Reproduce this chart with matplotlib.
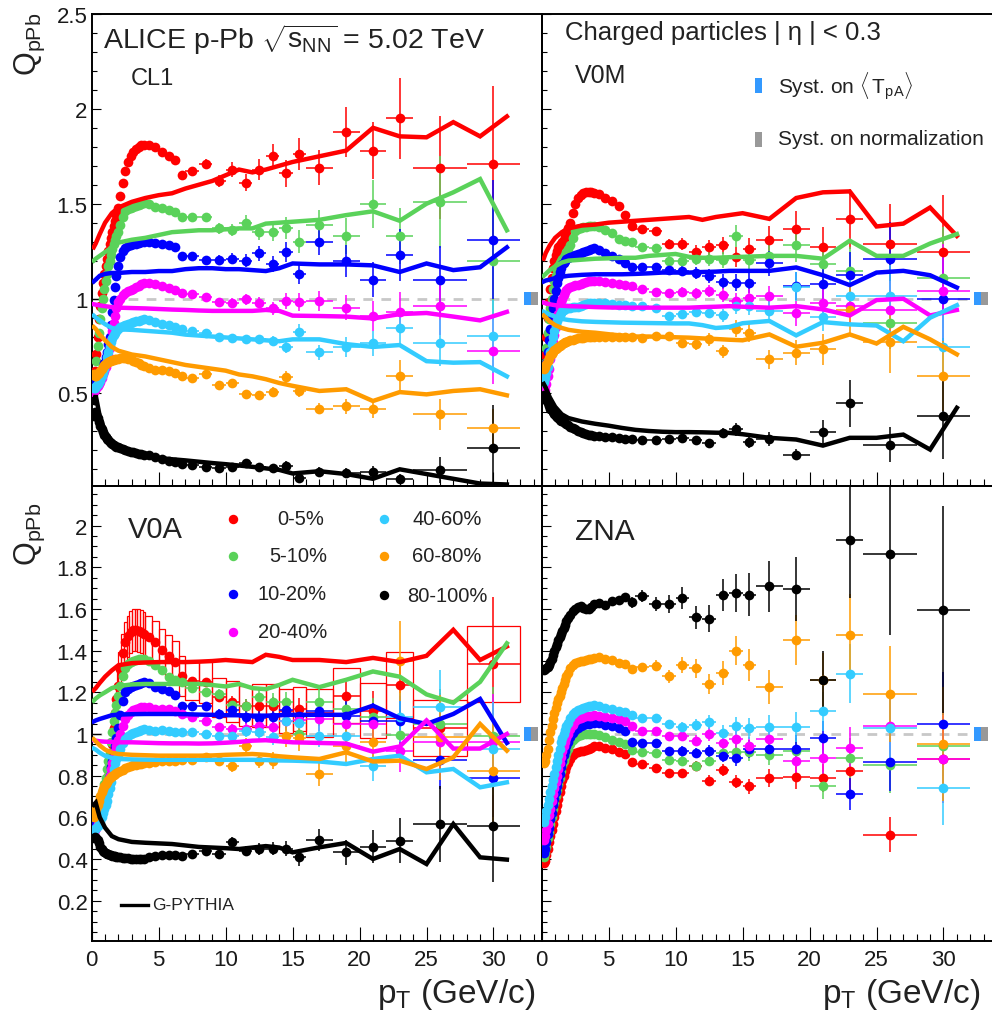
import numpy as np
import matplotlib
matplotlib.use('Agg')
import matplotlib.pyplot as plt
from matplotlib.patches import Rectangle

plt.rcParams['font.family'] = ['Liberation Sans', 'DejaVu Sans']
plt.rcParams['mathtext.fontset'] = 'custom'
plt.rcParams['mathtext.rm'] = 'Liberation Sans'
plt.rcParams['mathtext.it'] = 'Liberation Sans:italic'
plt.rcParams['mathtext.bf'] = 'Liberation Sans:bold'

# ---------------- data ----------------
PT_EDGES = [0.15, 0.2, 0.3, 0.4, 0.5, 0.6, 0.7, 0.8, 0.9, 1.0, 1.1, 1.2, 1.3, 1.4, 1.5, 1.6, 1.7,
            1.8, 1.9, 2.0, 2.2, 2.4, 2.6, 2.8, 3.0, 3.2, 3.4, 3.6, 3.8, 4.0, 4.5, 5.0, 5.5, 6.0,
            6.5, 7.0, 8.0, 9.0, 10.0, 11.0, 12.0, 13.0, 14.0, 15.0, 16.0, 18.0, 20.0, 22.0,
            24.0, 28.0, 32.0]
CLASSES = ['0-5%', '5-10%', '10-20%', '20-40%', '40-60%', '60-80%', '80-100%']
COLORS = ['#ff0000', '#5ad25a', '#0000ff', '#ff00ff', '#33ccff', '#ff9b00', '#000000']

# relative stat. uncertainty for the 16 high-pT bins (6.5-32 GeV/c)
REL_STAT_HI = [0.012, 0.014, 0.016, 0.02, 0.024, 0.028, 0.032, 0.036, 0.042, 0.048,
               0.055, 0.07, 0.085, 0.11, 0.16, 0.24]

# ---- CL1 ----
CL1_0_5 = [0.56, 0.62, 0.71, 0.80, 0.89, 0.96, 1.03, 1.08, 1.13, 1.17, 1.21, 1.25, 1.29, 1.32, 1.35, 1.38, 1.41,
           1.44, 1.48, 1.54, 1.61, 1.67, 1.72, 1.75, 1.77, 1.79, 1.80, 1.81, 1.81, 1.81, 1.80, 1.77, 1.75, 1.73,
           1.65, 1.67, 1.71, 1.62, 1.68, 1.61, 1.68, 1.75, 1.66, 1.76, 1.69, 1.88, 1.78, 1.95, 1.69, 1.71]
CL1_5_10 = [0.55, 0.60, 0.67, 0.75, 0.82, 0.89, 0.95, 1.00, 1.05, 1.09, 1.13, 1.17, 1.20, 1.23, 1.26, 1.29, 1.31,
            1.33, 1.35, 1.39, 1.43, 1.46, 1.47, 1.48, 1.485, 1.49, 1.495, 1.50, 1.505, 1.50, 1.485, 1.48, 1.465, 1.455,
            1.43, 1.43, 1.43, 1.37, 1.36, 1.40, 1.35, 1.35, 1.37, 1.30, 1.39, 1.33, 1.50, 1.33, 1.51, 1.20]
CL1_10_20 = [0.55, 0.56, 0.57, 0.58, 0.60, 0.61, 0.62, 0.64, 0.66, 0.69, 0.72, 0.76, 0.80, 0.86, 0.93, 0.99, 1.06,
             1.12, 1.17, 1.22, 1.25, 1.265, 1.275, 1.28, 1.285, 1.29, 1.295, 1.30, 1.30, 1.30, 1.295, 1.29, 1.28, 1.27,
             1.225, 1.225, 1.205, 1.205, 1.21, 1.20, 1.24, 1.18, 1.245, 1.13, 1.30, 1.20, 1.10, 1.23, 1.10, 1.31]
CL1_20_40 = [0.51, 0.52, 0.53, 0.54, 0.55, 0.56, 0.58, 0.60, 0.62, 0.64, 0.67, 0.70, 0.74, 0.78, 0.83, 0.87, 0.91,
             0.95, 0.98, 1.00, 1.02, 1.03, 1.04, 1.045, 1.05, 1.06, 1.065, 1.075, 1.08, 1.08, 1.075, 1.065, 1.055, 1.045,
             1.03, 1.023, 1.01, 0.982, 0.979, 0.996, 0.979, 0.95, 0.987, 0.982, 0.987, 0.952, 0.908, 0.93, 0.961, 0.723]
CL1_40_60 = [0.53, 0.53, 0.54, 0.55, 0.56, 0.57, 0.59, 0.61, 0.63, 0.66, 0.69, 0.72, 0.75, 0.77, 0.79, 0.81, 0.82,
             0.83, 0.84, 0.85, 0.855, 0.86, 0.865, 0.87, 0.875, 0.88, 0.88, 0.885, 0.89, 0.885, 0.875, 0.865, 0.86, 0.85,
             0.838, 0.829, 0.82, 0.799, 0.792, 0.785, 0.785, 0.776, 0.746, 0.824, 0.718, 0.746, 0.764, 0.846, 0.767, 0.802]
CL1_60_80 = [0.60, 0.59, 0.59, 0.60, 0.61, 0.62, 0.63, 0.64, 0.65, 0.655, 0.66, 0.665, 0.67, 0.672, 0.675, 0.678, 0.68,
             0.682, 0.684, 0.686, 0.688, 0.688, 0.684, 0.68, 0.673, 0.665, 0.66, 0.652, 0.645, 0.635, 0.626, 0.624, 0.617, 0.61,
             0.59, 0.583, 0.60, 0.547, 0.556, 0.495, 0.49, 0.509, 0.588, 0.512, 0.419, 0.433, 0.419, 0.591, 0.389, 0.318]
CL1_80_100 = [0.38, 0.40, 0.39, 0.37, 0.35, 0.33, 0.31, 0.295, 0.28, 0.27, 0.26, 0.252, 0.245, 0.238, 0.232, 0.228, 0.223,
              0.219, 0.215, 0.21, 0.205, 0.20, 0.197, 0.193, 0.19, 0.186, 0.183, 0.18, 0.177, 0.174, 0.165, 0.155, 0.143, 0.136,
              0.129, 0.123, 0.114, 0.106, 0.114, 0.132, 0.114, 0.106, 0.119, 0.053, 0.088, 0.083, 0.085, 0.05, 0.097, 0.21]

# ---- V0M ----
V0M_0_5 = [0.62, 0.70, 0.80, 0.90, 0.98, 1.05, 1.11, 1.16, 1.20, 1.23, 1.25, 1.27, 1.28, 1.29, 1.30, 1.31, 1.33,
           1.35, 1.37, 1.40, 1.45, 1.50, 1.53, 1.545, 1.555, 1.56, 1.56, 1.56, 1.555, 1.55, 1.53, 1.515, 1.49, 1.44,
           1.38, 1.366, 1.357, 1.287, 1.287, 1.246, 1.27, 1.28, 1.22, 1.26, 1.31, 1.366, 1.27, 1.42, 1.29, 1.246]
V0M_5_10 = [0.60, 0.66, 0.74, 0.82, 0.89, 0.95, 1.00, 1.05, 1.09, 1.12, 1.15, 1.17, 1.19, 1.20, 1.21, 1.22, 1.23,
            1.245, 1.26, 1.28, 1.32, 1.355, 1.365, 1.37, 1.375, 1.378, 1.38, 1.383, 1.385, 1.375, 1.36, 1.345, 1.315, 1.305,
            1.30, 1.27, 1.264, 1.20, 1.20, 1.21, 1.21, 1.204, 1.33, 1.204, 1.225, 1.282, 1.181, 1.146, 0.873, 1.111]
V0M_10_20 = [0.56, 0.60, 0.66, 0.72, 0.78, 0.84, 0.90, 0.95, 1.00, 1.04, 1.08, 1.11, 1.14, 1.16, 1.18, 1.19, 1.20,
             1.21, 1.215, 1.22, 1.225, 1.23, 1.235, 1.24, 1.245, 1.25, 1.255, 1.26, 1.264, 1.255, 1.24, 1.225, 1.21, 1.19,
             1.164, 1.164, 1.169, 1.151, 1.146, 1.137, 1.12, 1.088, 1.084, 1.084, 1.186, 1.067, 1.076, 1.123, 1.208, 0.999]
V0M_20_40 = [0.50, 0.52, 0.55, 0.59, 0.63, 0.68, 0.72, 0.77, 0.81, 0.85, 0.89, 0.92, 0.95, 0.98, 1.00, 1.02, 1.035,
             1.045, 1.055, 1.06, 1.065, 1.07, 1.073, 1.075, 1.08, 1.085, 1.09, 1.092, 1.093, 1.09, 1.088, 1.083, 1.075, 1.07,
             1.067, 1.053, 1.035, 1.028, 1.035, 1.028, 1.04, 1.017, 0.987, 1.004, 1.013, 0.922, 0.978, 0.96, 0.94, 1.04]
V0M_40_60 = [0.56, 0.58, 0.61, 0.64, 0.68, 0.72, 0.76, 0.80, 0.83, 0.86, 0.88, 0.90, 0.915, 0.925, 0.935, 0.94, 0.945,
             0.948, 0.95, 0.952, 0.955, 0.957, 0.958, 0.96, 0.965, 0.97, 0.975, 0.978, 0.978, 0.978, 0.976, 0.972, 0.968, 0.964,
             0.96, 0.96, 0.952, 0.908, 0.917, 0.929, 0.925, 0.911, 0.96, 0.96, 0.934, 1.063, 0.905, 1.013, 1.013, 0.746]
V0M_60_80 = [0.63, 0.64, 0.655, 0.67, 0.685, 0.70, 0.71, 0.72, 0.73, 0.735, 0.74, 0.745, 0.75, 0.755, 0.76, 0.765, 0.77,
             0.773, 0.776, 0.78, 0.784, 0.788, 0.79, 0.792, 0.794, 0.795, 0.796, 0.797, 0.798, 0.797, 0.795, 0.795, 0.796, 0.797,
             0.795, 0.794, 0.802, 0.802, 0.767, 0.758, 0.785, 0.723, 0.841, 0.82, 0.679, 0.714, 0.732, 0.94, 0.77, 0.59]
V0M_80_100 = [0.49, 0.48, 0.465, 0.45, 0.435, 0.42, 0.41, 0.40, 0.39, 0.382, 0.375, 0.368, 0.362, 0.357, 0.352, 0.347, 0.342,
              0.337, 0.332, 0.325, 0.316, 0.31, 0.303, 0.298, 0.292, 0.287, 0.283, 0.28, 0.278, 0.275, 0.272, 0.27, 0.266, 0.262,
              0.26, 0.257, 0.257, 0.261, 0.266, 0.257, 0.239, 0.292, 0.31, 0.243, 0.261, 0.178, 0.296, 0.447, 0.23, 0.383]

# ---- V0A ----
V0A_0_5 = [0.60, 0.61, 0.62, 0.63, 0.65, 0.66, 0.68, 0.70, 0.72, 0.74, 0.77, 0.80, 0.84, 0.88, 0.95, 1.03, 1.10,
           1.17, 1.23, 1.31, 1.39, 1.44, 1.47, 1.49, 1.50, 1.50, 1.495, 1.49, 1.48, 1.465, 1.44, 1.405, 1.375, 1.345,
           1.277, 1.256, 1.248, 1.176, 1.155, 1.136, 1.136, 1.136, 1.112, 1.12, 1.10, 1.184, 1.112, 1.235, 1.03, 1.336]
V0A_5_10 = [0.60, 0.61, 0.62, 0.64, 0.66, 0.68, 0.70, 0.73, 0.76, 0.79, 0.83, 0.87, 0.91, 0.96, 1.01, 1.06, 1.10,
            1.14, 1.18, 1.23, 1.28, 1.315, 1.335, 1.345, 1.35, 1.355, 1.36, 1.36, 1.36, 1.35, 1.33, 1.305, 1.275, 1.26,
            1.25, 1.22, 1.20, 1.19, 1.14, 1.136, 1.176, 1.155, 1.155, 1.00, 1.155, 1.12, 1.08, 0.995, 1.05, 0.99]
V0A_10_20 = [0.57, 0.58, 0.59, 0.60, 0.62, 0.63, 0.65, 0.67, 0.69, 0.71, 0.74, 0.77, 0.80, 0.84, 0.87, 0.90, 0.94,
             0.98, 1.03, 1.09, 1.16, 1.20, 1.215, 1.225, 1.23, 1.235, 1.24, 1.245, 1.25, 1.245, 1.225, 1.215, 1.205, 1.185,
             1.136, 1.136, 1.136, 1.096, 1.115, 1.08, 1.076, 1.08, 1.115, 1.088, 1.112, 1.088, 1.06, 1.064, 0.877, 0.79]
V0A_20_40 = [0.53, 0.54, 0.55, 0.57, 0.59, 0.61, 0.63, 0.65, 0.68, 0.71, 0.74, 0.77, 0.80, 0.83, 0.86, 0.89, 0.92,
             0.94, 0.97, 1.00, 1.04, 1.07, 1.09, 1.105, 1.115, 1.12, 1.125, 1.128, 1.13, 1.128, 1.122, 1.12, 1.118, 1.11,
             1.095, 1.08, 1.06, 1.033, 1.022, 1.022, 1.04, 1.033, 1.06, 1.065, 1.073, 1.05, 1.05, 0.92, 0.96, 0.96]
V0A_40_60 = [0.54, 0.545, 0.55, 0.56, 0.57, 0.58, 0.60, 0.62, 0.64, 0.66, 0.68, 0.71, 0.74, 0.77, 0.80, 0.83, 0.86,
             0.88, 0.90, 0.93, 0.955, 0.975, 0.99, 1.00, 1.005, 1.01, 1.015, 1.02, 1.024, 1.02, 1.016, 1.02, 1.015, 1.008,
             1.008, 1.008, 1.00, 0.992, 0.992, 1.016, 1.008, 0.984, 1.06, 1.053, 0.992, 0.99, 0.848, 1.08, 1.128, 0.93]
V0A_60_80 = [0.60, 0.62, 0.64, 0.66, 0.68, 0.70, 0.72, 0.735, 0.75, 0.76, 0.77, 0.78, 0.787, 0.793, 0.798, 0.803, 0.808,
             0.812, 0.816, 0.822, 0.828, 0.835, 0.84, 0.845, 0.85, 0.853, 0.856, 0.858, 0.86, 0.863, 0.866, 0.868, 0.87, 0.872,
             0.874, 0.876, 0.888, 0.872, 0.845, 0.944, 0.872, 0.872, 0.992, 0.98, 0.808, 0.94, 0.96, 1.35, 0.984, 0.824]
V0A_80_100 = [0.50, 0.505, 0.50, 0.49, 0.475, 0.46, 0.45, 0.44, 0.435, 0.43, 0.425, 0.422, 0.42, 0.418, 0.416, 0.414, 0.413,
              0.412, 0.41, 0.408, 0.406, 0.405, 0.403, 0.402, 0.401, 0.40, 0.40, 0.40, 0.402, 0.41, 0.415, 0.418, 0.42, 0.42,
              0.416, 0.424, 0.44, 0.424, 0.483, 0.44, 0.45, 0.45, 0.45, 0.408, 0.492, 0.432, 0.46, 0.488, 0.568, 0.557]
# relative systematic uncertainty of V0A 0-5% (open boxes)
V0A_0_5_SYS = [0.06, 0.06, 0.06, 0.06, 0.06, 0.06, 0.06, 0.06, 0.06, 0.062, 0.062, 0.062, 0.062, 0.063, 0.063, 0.064, 0.064,
               0.065, 0.065, 0.065, 0.066, 0.066, 0.067, 0.067, 0.068, 0.068, 0.069, 0.069, 0.07, 0.07, 0.07, 0.072, 0.072, 0.074,
               0.075, 0.075, 0.08, 0.08, 0.085, 0.085, 0.09, 0.09, 0.095, 0.095, 0.105, 0.11, 0.12, 0.13, 0.13, 0.135]

# ---- ZNA ----
ZNA_0_5 = [0.38, 0.39, 0.42, 0.45, 0.48, 0.51, 0.54, 0.57, 0.60, 0.63, 0.66, 0.69, 0.72, 0.75, 0.78, 0.80, 0.82,
           0.84, 0.86, 0.88, 0.90, 0.91, 0.915, 0.918, 0.92, 0.925, 0.93, 0.935, 0.94, 0.944, 0.935, 0.928, 0.915, 0.904,
           0.864, 0.856, 0.835, 0.812, 0.812, 0.845, 0.776, 0.828, 0.771, 0.748, 0.787, 0.792, 0.787, 0.824, 0.517, 0.88]
ZNA_5_10 = [0.41, 0.43, 0.46, 0.50, 0.53, 0.57, 0.60, 0.64, 0.67, 0.70, 0.73, 0.76, 0.79, 0.82, 0.85, 0.87, 0.89,
            0.91, 0.93, 0.95, 0.97, 0.98, 0.99, 0.995, 1.00, 1.00, 1.00, 1.00, 1.00, 0.995, 0.985, 0.97, 0.96, 0.95,
            0.925, 0.912, 0.908, 0.876, 0.872, 0.848, 0.872, 0.908, 0.912, 0.912, 0.90, 0.916, 0.752, 0.884, 0.852, 0.94]
ZNA_10_20 = [0.43, 0.45, 0.48, 0.52, 0.55, 0.59, 0.62, 0.66, 0.69, 0.72, 0.75, 0.78, 0.81, 0.84, 0.87, 0.90, 0.92,
             0.94, 0.96, 0.985, 1.005, 1.02, 1.03, 1.04, 1.045, 1.048, 1.05, 1.053, 1.055, 1.055, 1.045, 1.04, 1.03, 1.016,
             0.96, 0.956, 0.956, 0.92, 0.92, 0.908, 0.92, 0.896, 0.884, 0.928, 0.928, 0.928, 0.98, 0.712, 0.865, 1.048]
ZNA_20_40 = [0.49, 0.51, 0.54, 0.57, 0.61, 0.64, 0.68, 0.71, 0.74, 0.77, 0.80, 0.83, 0.86, 0.89, 0.92, 0.94, 0.96,
             0.98, 1.00, 1.025, 1.045, 1.06, 1.07, 1.078, 1.082, 1.085, 1.087, 1.088, 1.089, 1.088, 1.08, 1.075, 1.07, 1.064,
             1.04, 1.016, 1.016, 0.989, 0.989, 0.968, 1.00, 0.955, 0.975, 0.94, 0.975, 0.868, 0.884, 0.932, 1.037, 0.88]
ZNA_40_60 = [0.58, 0.60, 0.63, 0.66, 0.69, 0.72, 0.75, 0.78, 0.81, 0.84, 0.87, 0.90, 0.93, 0.96, 0.98, 1.00, 1.02,
             1.04, 1.055, 1.075, 1.095, 1.105, 1.115, 1.12, 1.125, 1.13, 1.133, 1.136, 1.138, 1.135, 1.125, 1.12, 1.11, 1.104,
             1.09, 1.075, 1.075, 1.048, 1.032, 1.043, 1.059, 1.005, 1.037, 1.027, 1.032, 1.032, 1.109, 1.288, 1.027, 0.74]
ZNA_60_80 = [0.86, 0.87, 0.90, 0.93, 0.97, 1.01, 1.04, 1.07, 1.10, 1.125, 1.15, 1.17, 1.18, 1.20, 1.22, 1.24, 1.26,
             1.28, 1.295, 1.315, 1.33, 1.34, 1.345, 1.35, 1.352, 1.355, 1.358, 1.36, 1.365, 1.37, 1.36, 1.357, 1.34, 1.335,
             1.312, 1.32, 1.328, 1.276, 1.331, 1.315, 1.24, 1.293, 1.40, 1.331, 1.227, 1.451, 1.26, 1.477, 1.192, 0.952]
ZNA_80_100 = [1.305, 1.31, 1.315, 1.32, 1.33, 1.345, 1.36, 1.38, 1.40, 1.415, 1.43, 1.45, 1.465, 1.48, 1.495, 1.51, 1.525,
              1.54, 1.555, 1.57, 1.59, 1.60, 1.61, 1.615, 1.605, 1.60, 1.60, 1.61, 1.625, 1.63, 1.62, 1.64, 1.645, 1.655,
              1.632, 1.663, 1.624, 1.624, 1.652, 1.559, 1.554, 1.668, 1.676, 1.668, 1.708, 1.695, 1.259, 1.93, 1.863, 1.597]

# ---- G-PYTHIA curves ----
GP_PT = [0.15, 0.3, 0.6, 1, 1.5, 2, 3, 4, 5, 6, 7, 8, 9, 10, 11, 12, 13, 14, 15, 17, 19, 21, 23, 25, 27, 29, 31]
GP_CL1_0_5 = [1.27, 1.29, 1.34, 1.40, 1.45, 1.48, 1.51, 1.53, 1.545, 1.555, 1.58, 1.60, 1.62, 1.65, 1.68, 1.665, 1.68, 1.70, 1.72, 1.75, 1.78, 1.90, 1.855, 1.85, 1.93, 1.855, 1.96]
GP_CL1_5_10 = [1.20, 1.21, 1.225, 1.245, 1.27, 1.295, 1.31, 1.32, 1.335, 1.35, 1.355, 1.36, 1.36, 1.365, 1.37, 1.37, 1.395, 1.40, 1.405, 1.415, 1.44, 1.46, 1.41, 1.50, 1.56, 1.63, 1.36]
GP_CL1_10_20 = [1.09, 1.10, 1.12, 1.13, 1.135, 1.135, 1.14, 1.14, 1.145, 1.145, 1.155, 1.16, 1.16, 1.155, 1.155, 1.15, 1.145, 1.16, 1.185, 1.18, 1.18, 1.175, 1.14, 1.185, 1.15, 1.165, 1.27]
GP_CL1_20_40 = [0.97, 0.968, 0.964, 0.96, 0.955, 0.952, 0.95, 0.948, 0.945, 0.942, 0.94, 0.937, 0.935, 0.935, 0.935, 0.935, 0.94, 0.935, 0.91, 0.908, 0.905, 0.895, 0.918, 0.924, 0.905, 0.885, 0.93]
GP_CL1_40_60 = [0.91, 0.90, 0.885, 0.865, 0.845, 0.838, 0.835, 0.83, 0.825, 0.82, 0.81, 0.805, 0.80, 0.795, 0.79, 0.785, 0.78, 0.775, 0.785, 0.785, 0.76, 0.745, 0.755, 0.67, 0.662, 0.665, 0.59]
GP_CL1_60_80 = [0.85, 0.84, 0.81, 0.78, 0.745, 0.725, 0.705, 0.695, 0.68, 0.665, 0.65, 0.64, 0.63, 0.62, 0.60, 0.59, 0.575, 0.555, 0.54, 0.513, 0.522, 0.46, 0.507, 0.495, 0.513, 0.522, 0.49]
GP_CL1_80_100 = [0.45, 0.49, 0.38, 0.30, 0.25, 0.22, 0.19, 0.17, 0.16, 0.153, 0.147, 0.14, 0.133, 0.127, 0.12, 0.113, 0.105, 0.097, 0.078, 0.09, 0.075, 0.05, 0.10, 0.075, 0.05, 0.025, 0.02]
GP_V0M_0_5 = [1.21, 1.24, 1.28, 1.32, 1.35, 1.37, 1.385, 1.39, 1.40, 1.405, 1.41, 1.415, 1.42, 1.425, 1.43, 1.415, 1.43, 1.44, 1.45, 1.42, 1.53, 1.56, 1.565, 1.38, 1.395, 1.48, 1.33]
GP_V0M_5_10 = [1.12, 1.13, 1.15, 1.17, 1.19, 1.20, 1.205, 1.21, 1.212, 1.215, 1.215, 1.225, 1.23, 1.235, 1.22, 1.215, 1.215, 1.218, 1.22, 1.225, 1.225, 1.21, 1.305, 1.225, 1.225, 1.29, 1.34]
GP_V0M_10_20 = [1.09, 1.095, 1.10, 1.108, 1.115, 1.12, 1.125, 1.128, 1.128, 1.128, 1.13, 1.133, 1.137, 1.137, 1.137, 1.14, 1.142, 1.146, 1.146, 1.146, 1.164, 1.123, 1.071, 1.137, 1.146, 1.123, 1.058]
GP_V0M_20_40 = [0.978, 0.975, 0.97, 0.965, 0.962, 0.96, 0.958, 0.955, 0.953, 0.952, 0.952, 0.952, 0.952, 0.952, 0.952, 0.955, 0.957, 0.96, 0.957, 0.952, 0.96, 0.943, 0.911, 0.992, 0.999, 0.911, 0.94]
GP_V0M_40_60 = [0.93, 0.925, 0.915, 0.905, 0.893, 0.887, 0.88, 0.877, 0.875, 0.873, 0.872, 0.871, 0.87, 0.869, 0.869, 0.86, 0.845, 0.85, 0.87, 0.882, 0.806, 0.876, 0.864, 0.858, 0.775, 0.899, 0.965]
GP_V0M_60_80 = [0.91, 0.90, 0.88, 0.86, 0.845, 0.835, 0.825, 0.82, 0.812, 0.805, 0.80, 0.80, 0.798, 0.796, 0.794, 0.79, 0.787, 0.783, 0.78, 0.811, 0.746, 0.767, 0.811, 0.763, 0.851, 0.785, 0.706]
GP_V0M_80_100 = [0.55, 0.53, 0.48, 0.43, 0.39, 0.37, 0.352, 0.34, 0.33, 0.318, 0.308, 0.302, 0.298, 0.296, 0.296, 0.295, 0.293, 0.292, 0.285, 0.266, 0.257, 0.225, 0.266, 0.266, 0.283, 0.204, 0.424]
GP_V0A_0_5 = [1.21, 1.22, 1.245, 1.275, 1.305, 1.33, 1.34, 1.343, 1.345, 1.345, 1.345, 1.347, 1.35, 1.355, 1.35, 1.345, 1.38, 1.37, 1.355, 1.355, 1.345, 1.365, 1.345, 1.375, 1.50, 1.355, 1.42]
GP_V0A_5_10 = [1.16, 1.17, 1.185, 1.20, 1.22, 1.23, 1.238, 1.24, 1.24, 1.24, 1.24, 1.24, 1.235, 1.228, 1.24, 1.22, 1.215, 1.235, 1.26, 1.225, 1.26, 1.30, 1.275, 1.19, 1.15, 1.25, 1.435]
GP_V0A_10_20 = [1.06, 1.065, 1.072, 1.08, 1.09, 1.093, 1.095, 1.096, 1.096, 1.096, 1.095, 1.093, 1.092, 1.09, 1.09, 1.088, 1.088, 1.09, 1.092, 1.092, 1.092, 1.136, 1.076, 1.048, 1.096, 1.168, 0.957]
GP_V0A_20_40 = [0.97, 0.968, 0.965, 0.963, 0.962, 0.96, 0.96, 0.958, 0.956, 0.955, 0.955, 0.954, 0.955, 0.958, 0.962, 0.968, 0.97, 0.965, 0.96, 0.957, 0.954, 0.915, 0.94, 1.065, 0.93, 0.93, 1.00]
GP_V0A_40_60 = [0.93, 0.925, 0.91, 0.895, 0.885, 0.88, 0.878, 0.877, 0.876, 0.876, 0.876, 0.876, 0.876, 0.876, 0.876, 0.876, 0.875, 0.873, 0.872, 0.868, 0.856, 0.88, 0.896, 0.816, 0.832, 0.744, 0.768]
GP_V0A_60_80 = [0.975, 0.965, 0.945, 0.925, 0.91, 0.904, 0.90, 0.898, 0.896, 0.896, 0.896, 0.896, 0.897, 0.90, 0.902, 0.904, 0.90, 0.893, 0.888, 0.88, 0.912, 0.868, 0.872, 0.832, 0.888, 1.048, 0.92]
GP_V0A_80_100 = [0.66, 0.67, 0.60, 0.55, 0.51, 0.495, 0.482, 0.478, 0.475, 0.472, 0.465, 0.458, 0.455, 0.452, 0.448, 0.455, 0.462, 0.455, 0.432, 0.456, 0.477, 0.40, 0.448, 0.376, 0.568, 0.408, 0.397]

# ---------------- layout ----------------
W, H = 992, 1020
fig = plt.figure(figsize=(W / 100, H / 100), dpi=100)


def fx(px):
    return px / W


def fy(py):
    return 1 - py / H


def rect(x0, y0, x1, y1):
    return [x0 / W, 1 - y1 / H, (x1 - x0) / W, (y1 - y0) / H]


XL, XM, XR = 91.7, 541.7, 991.7
YT, YM, YB = 15.0, 487.0, 941.7
XMAX = 33.6

edges = np.array(PT_EDGES)
pt = 0.5 * (edges[1:] + edges[:-1])
pt_hw = 0.5 * (edges[1:] - edges[:-1])
n_lo = len(pt) - len(REL_STAT_HI)

panels = [
    dict(name='CL1', rect=rect(XL, YT, XM, YM), top=True, left=True,
         data=[CL1_0_5, CL1_5_10, CL1_10_20, CL1_20_40, CL1_40_60, CL1_60_80, CL1_80_100],
         gp=[GP_CL1_0_5, GP_CL1_5_10, GP_CL1_10_20, GP_CL1_20_40, GP_CL1_40_60, GP_CL1_60_80, GP_CL1_80_100],
         emul=[1, 1, 1, 1, 1, 1.3, 4.5]),
    dict(name='V0M', rect=rect(XM, YT, XR, YM), top=True, left=False,
         data=[V0M_0_5, V0M_5_10, V0M_10_20, V0M_20_40, V0M_40_60, V0M_60_80, V0M_80_100],
         gp=[GP_V0M_0_5, GP_V0M_5_10, GP_V0M_10_20, GP_V0M_20_40, GP_V0M_40_60, GP_V0M_60_80, GP_V0M_80_100],
         emul=[1, 1, 1, 1, 1, 1.3, 2.5]),
    dict(name='V0A', rect=rect(XL, YM, XM, YB), top=False, left=True,
         data=[V0A_0_5, V0A_5_10, V0A_10_20, V0A_20_40, V0A_40_60, V0A_60_80, V0A_80_100],
         gp=[GP_V0A_0_5, GP_V0A_5_10, GP_V0A_10_20, GP_V0A_20_40, GP_V0A_40_60, GP_V0A_60_80, GP_V0A_80_100],
         emul=[1, 1, 1, 1, 1, 1.3, 2.0]),
    dict(name='ZNA', rect=rect(XM, YM, XR, YB), top=False, left=False,
         data=[ZNA_0_5, ZNA_5_10, ZNA_10_20, ZNA_20_40, ZNA_40_60, ZNA_60_80, ZNA_80_100],
         gp=None, emul=[1, 1, 1, 1, 1, 1.2, 1.3]),
]

axes = {}
for p in panels:
    ax = fig.add_axes(p['rect'])
    axes[p['name']] = ax
    ax.set_xlim(0, XMAX)
    if p['top']:
        ax.set_ylim(0.012, 2.5)
        ax.set_yticks([0.5, 1.0, 1.5, 2.0, 2.5])
        ax.set_yticklabels(['0.5', '1', '1.5', '2', '2.5'])
        ax.set_yticks(np.arange(0.1, 2.45, 0.1), minor=True)
    else:
        ax.set_ylim(0.008, 2.19)
        ax.set_yticks(np.arange(0.2, 2.01, 0.2))
        ax.set_yticklabels(['0.2', '0.4', '0.6', '0.8', '1', '1.2', '1.4', '1.6', '1.8', '2'])
        ax.set_yticks(np.arange(0.05, 2.16, 0.05), minor=True)
    ax.set_xticks(np.arange(0, 31, 5))
    ax.set_xticklabels([str(v) for v in range(0, 31, 5)])
    ax.set_xticks(np.arange(0, 34, 1), minor=True)
    ax.tick_params(which='both', direction='in', top=False, right=False, width=0.8, colors='black')
    ax.tick_params(axis='x', which='major', length=10, labelsize=16, pad=6)
    ax.tick_params(axis='x', which='minor', length=5)
    ax.tick_params(axis='y', which='major', length=6.5, labelsize=16, pad=3)
    ax.tick_params(axis='y', which='minor', length=3.6)
    for lab in ax.get_xticklabels() + ax.get_yticklabels():
        lab.set_color('#1a1a1a')
    if p['top']:
        ax.tick_params(axis='x', labelbottom=False)
    if not p['left']:
        ax.tick_params(axis='y', labelleft=False)
        ax.spines['right'].set_visible(False)
    for s in ax.spines.values():
        s.set_linewidth(1.4)
    ax.set_facecolor('none')

    # reference line and normalisation boxes
    ax.plot([0, 32.2], [1, 1], color='#c8c8c8', lw=2.0, dashes=(3.5, 3.0), zorder=1)
    ax.add_patch(Rectangle((32.25, 0.967), 0.55, 0.066, facecolor='#3399ff', edgecolor='none', zorder=6))
    ax.add_patch(Rectangle((32.8, 0.967), 0.55, 0.066, facecolor='#999999', edgecolor='none', zorder=6))

    # systematic boxes (V0A, 0-5%)
    if p['name'] == 'V0A':
        yv = np.array(V0A_0_5)
        sv = np.array(V0A_0_5_SYS) * yv
        for i in range(len(pt)):
            ax.add_patch(Rectangle((edges[i], yv[i] - sv[i]), edges[i + 1] - edges[i], 2 * sv[i],
                                   fill=False, edgecolor='#ff0000', lw=0.9, zorder=2.5))

    # data points
    for k, (vals, col) in enumerate(zip(p['data'], COLORS)):
        yv = np.array(vals)
        yerr = np.zeros_like(yv)
        yerr[n_lo:] = np.array(REL_STAT_HI) * yv[n_lo:] * p['emul'][k]
        ax.errorbar(pt, yv, xerr=pt_hw, yerr=yerr, fmt='o', ms=7.0, mew=0, color=col,
                    ecolor=col, elinewidth=1.1, capsize=0, zorder=3)
    # G-PYTHIA curves
    if p['gp'] is not None:
        for vals, col in zip(p['gp'], COLORS):
            ax.plot(GP_PT, vals, color=col, lw=3.2, zorder=4, solid_joinstyle='miter')

# ---------------- texts ----------------
TXT = '#222222'
fig.text(fx(103), fy(40), r'ALICE p-Pb $\sqrt{\mathrm{s}_{\mathrm{NN}}}$ = 5.02 TeV', fontsize=20.5,
         ha='left', va='center', color=TXT)
fig.text(fx(131), fy(79), 'CL1', fontsize=17, ha='left', va='center', color=TXT)
fig.text(fx(565), fy(33), 'Charged particles | η | < 0.3', fontsize=18.5, ha='left', va='center', color=TXT)
fig.text(fx(575), fy(76), 'V0M', fontsize=18, ha='left', va='center', color=TXT)
fig.text(fx(778), fy(86), r'Syst. on $\langle\,\mathrm{T}_{\mathrm{pA}}\rangle$', fontsize=15, ha='left',
         va='center', color=TXT)
fig.text(fx(778), fy(140), 'Syst. on normalization', fontsize=15, ha='left', va='center', color=TXT)
fig.patches.append(Rectangle((fx(755), fy(94)), fx(762) - fx(755), fy(79) - fy(94),
                             transform=fig.transFigure, facecolor='#3399ff', edgecolor='none'))
fig.patches.append(Rectangle((fx(755), fy(148)), fx(762) - fx(755), fy(133) - fy(148),
                             transform=fig.transFigure, facecolor='#999999', edgecolor='none'))
fig.text(fx(128), fy(530), 'V0A', fontsize=21, ha='left', va='center', color=TXT)
fig.text(fx(575), fy(532), 'ZNA', fontsize=21.5, ha='left', va='center', color=TXT)

# legend
leg_pos = [(233, 324, 520, 'right'), (233, 327, 557, 'right'), (233, 327, 595, 'right'),
           (233, 327, 633, 'right'), (384, 447, 520, 'center'), (384, 447, 557, 'center'),
           (384, 447, 596, 'center')]
for (mx, tx, ty, ha), lab, col in zip(leg_pos, CLASSES, COLORS):
    fig.lines.append(plt.Line2D([fx(mx)], [fy(ty)], marker='o', ms=6.8, mew=0, color=col,
                                transform=fig.transFigure))
    fig.text(fx(tx), fy(ty), lab, fontsize=14.5, ha=ha, va='center', color=TXT)
fig.lines.append(plt.Line2D([fx(120.5), fx(148)], [fy(906), fy(906)], color='black', lw=2.4,
                            transform=fig.transFigure))
fig.text(fx(152.5), fy(906), 'G-PYTHIA', fontsize=12.5, ha='left', va='center', color=TXT)

# axis titles
for ytop in (13, 503):
    fig.text(fx(30), fy(ytop), r'Q$_{\mathrm{pPb}}$', fontsize=22, rotation=90, ha='center', va='top',
             color=TXT)
for xr in (535.5, 980):
    fig.text(fx(xr), fy(1003), r'p$_{\mathrm{T}}$ (GeV/c)', fontsize=24, ha='right', va='baseline',
             color=TXT)

fig.savefig('out.png', dpi=100)
